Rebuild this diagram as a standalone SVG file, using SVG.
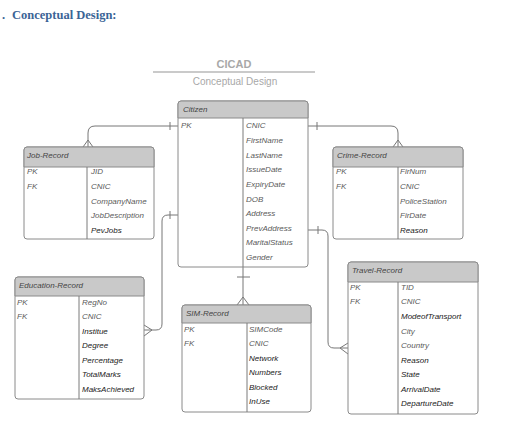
<svg xmlns="http://www.w3.org/2000/svg" width="505" height="447" viewBox="0 0 505 447">
<style>
.box{fill:#fff;stroke:#8a8a8a;stroke-width:1}
.hdr{fill:#c9c9c9;stroke:#8a8a8a;stroke-width:1}
.div{stroke:#7a7a7a;stroke-width:1}
.t{font-family:"Liberation Sans",Arial,sans-serif;font-size:8px;font-style:italic;fill:#5a5a5a}
.d{fill:#1a1a1a}
.h{font-family:"Liberation Sans",Arial,sans-serif;font-size:8px;font-style:italic;fill:#444}
.c{fill:none;stroke:#777;stroke-width:1}
</style>
<rect width="505" height="447" fill="#fff"/>
<text x="2" y="19" font-family="Liberation Serif,serif" font-size="12.5" font-weight="bold" fill="#3b6496">.</text>
<text x="12" y="19" font-family="Liberation Serif,serif" font-size="12.5" font-weight="bold" fill="#3b6496">Conceptual Design:</text>
<g id="title">
<text x="234" y="68" text-anchor="middle" font-family="Liberation Sans,Arial,sans-serif" font-size="11" font-weight="bold" fill="#a8a8a8">CICAD</text>
<line x1="153" y1="72" x2="315" y2="72" stroke="#b8b8b8" stroke-width="1.5"/>
<text x="235" y="85" text-anchor="middle" font-family="Liberation Sans,Arial,sans-serif" font-size="10" fill="#a8a8a8">Conceptual Design</text>
</g>
<g id="connectors">
<path class="c" d="M178,126 H95 Q88,126 88,133 V147"/>
<path class="c" d="M170,122 V130"/>
<path class="c" d="M88,140 L83,147 M88,140 L93,147"/>
<path class="c" d="M308,126 H391 Q398,126 398,133 V147"/>
<path class="c" d="M317,122 V130"/>
<path class="c" d="M398,140 L393,147 M398,140 L403,147"/>
<path class="c" d="M178,215 H168 Q162,215 162,221 V324 Q162,330 156,330 H144"/>
<path class="c" d="M170,211 V219"/>
<path class="c" d="M152,330 L144,325 M152,330 L144,336"/>
<path class="c" d="M308,230 H322 Q328,230 328,236 V342 Q328,348 334,348 H348"/>
<path class="c" d="M318,226 V234"/>
<path class="c" d="M340,348 L348,343 M340,348 L348,354"/>
<path class="c" d="M243,267 V305"/>
<path class="c" d="M237,277 H250"/>
<path class="c" d="M243,297 L237,305 M243,297 L249,305"/>
</g>
<g id="citizen">
<rect class="box" x="178" y="101" width="130" height="166" rx="3"/>
<path class="hdr" d="M178,118 V104 Q178,101 181,101 H305 Q308,101 308,104 V118 Z"/>
<line class="div" x1="243" y1="118" x2="243" y2="267"/>
<text class="h" x="183" y="112">Citizen</text>
<text class="t" x="181" y="128">PK</text>
<text class="t" x="246" y="128">CNIC</text>
<text class="t" x="246" y="143">FirstName</text>
<text class="t" x="246" y="158">LastName</text>
<text class="t" x="246" y="172">IssueDate</text>
<text class="t" x="246" y="187">ExpiryDate</text>
<text class="t" x="246" y="202">DOB</text>
<text class="t" x="246" y="216">Address</text>
<text class="t" x="246" y="231">PrevAddress</text>
<text class="t" x="246" y="245">MaritalStatus</text>
<text class="t" x="246" y="260">Gender</text>
</g>
<g id="job-record">
<rect class="box" x="24" y="147" width="130" height="92" rx="3"/>
<path class="hdr" d="M24,167 V150 Q24,147 27,147 H151 Q154,147 154,150 V167 Z"/>
<line class="div" x1="87" y1="167" x2="87" y2="239"/>
<text class="h" x="27" y="158">Job-Record</text>
<text class="t" x="27" y="174">PK</text>
<text class="t" x="27" y="189">FK</text>
<text class="t" x="91" y="174">JID</text>
<text class="t" x="91" y="189">CNIC</text>
<text class="t" x="91" y="204">CompanyName</text>
<text class="t" x="91" y="218">JobDescription</text>
<text class="t d" x="91" y="233">PevJobs</text>
</g>
<g id="crime-record">
<rect class="box" x="333" y="147" width="130" height="92" rx="3"/>
<path class="hdr" d="M333,167 V150 Q333,147 336,147 H460 Q463,147 463,150 V167 Z"/>
<line class="div" x1="398" y1="167" x2="398" y2="239"/>
<text class="h" x="337" y="158">Crime-Record</text>
<text class="t" x="336" y="174">PK</text>
<text class="t" x="336" y="189">FK</text>
<text class="t" x="400" y="174">FirNum</text>
<text class="t" x="400" y="189">CNIC</text>
<text class="t" x="400" y="204">PoliceStation</text>
<text class="t" x="400" y="218">FirDate</text>
<text class="t d" x="400" y="233">Reason</text>
</g>
<g id="education-record">
<rect class="box" x="15" y="277" width="129" height="122" rx="3"/>
<path class="hdr" d="M15,296 V280 Q15,277 18,277 H141 Q144,277 144,280 V296 Z"/>
<line class="div" x1="79" y1="296" x2="79" y2="399"/>
<text class="h" x="19" y="288">Education-Record</text>
<text class="t" x="17" y="305">PK</text>
<text class="t" x="17" y="319">FK</text>
<text class="t" x="82" y="305">RegNo</text>
<text class="t" x="82" y="319">CNIC</text>
<text class="t d" x="82" y="334">Institue</text>
<text class="t d" x="82" y="348">Degree</text>
<text class="t d" x="82" y="363">Percentage</text>
<text class="t d" x="82" y="377">TotalMarks</text>
<text class="t d" x="82" y="392">MaksAchieved</text>
</g>
<g id="sim-record">
<rect class="box" x="182" y="305" width="129" height="107" rx="3"/>
<path class="hdr" d="M182,323 V308 Q182,305 185,305 H308 Q311,305 311,308 V323 Z"/>
<line class="div" x1="247" y1="323" x2="247" y2="412"/>
<text class="h" x="186" y="316">SIM-Record</text>
<text class="t" x="184" y="332">PK</text>
<text class="t" x="184" y="346">FK</text>
<text class="t" x="249" y="332">SIMCode</text>
<text class="t" x="249" y="346">CNIC</text>
<text class="t d" x="249" y="361">Network</text>
<text class="t d" x="249" y="375">Numbers</text>
<text class="t d" x="249" y="390">Blocked</text>
<text class="t d" x="249" y="404">InUse</text>
</g>
<g id="travel-record">
<rect class="box" x="348" y="262" width="130" height="152" rx="3"/>
<path class="hdr" d="M348,282 V265 Q348,262 351,262 H475 Q478,262 478,265 V282 Z"/>
<line class="div" x1="398" y1="282" x2="398" y2="414"/>
<text class="h" x="352" y="273">Travel-Record</text>
<text class="t" x="350" y="290">PK</text>
<text class="t" x="350" y="304">FK</text>
<text class="t" x="401" y="290">TID</text>
<text class="t" x="401" y="304">CNIC</text>
<text class="t d" x="401" y="319">ModeofTransport</text>
<text class="t" x="401" y="334">City</text>
<text class="t" x="401" y="348">Country</text>
<text class="t d" x="401" y="363">Reason</text>
<text class="t d" x="401" y="377">State</text>
<text class="t d" x="401" y="392">ArrivalDate</text>
<text class="t d" x="401" y="406">DepartureDate</text>
</g>
</svg>
